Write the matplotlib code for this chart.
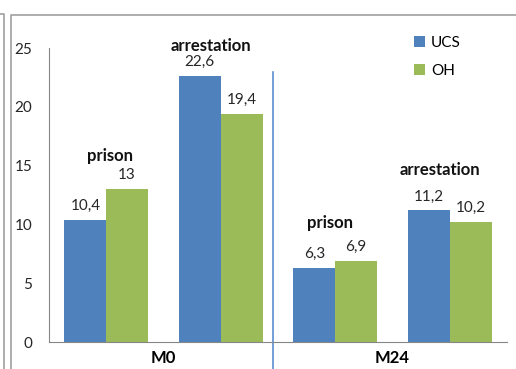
import matplotlib.pyplot as plt
from matplotlib.lines import Line2D

plt.rcParams['font.family'] = ['Lato', 'DejaVu Sans']

# values per group: M0 prison, M0 arrestation, M24 prison, M24 arrestation
groups = ["prison", "arrestation", "prison", "arrestation"]
periods = ["M0", "M24"]
ucs = [10.4, 22.6, 6.3, 11.2]
oh = [13, 19.4, 6.9, 10.2]

blue = "#4F81BD"
green = "#9BBB59"

W, H = 516, 369
fig = plt.figure(figsize=(W / 100, H / 100), dpi=100)
ax = fig.add_axes([49 / W, 27 / H, 458 / W, 294 / H])

x = list(range(len(groups)))
bw = 0.365
b1 = ax.bar([i - bw / 2 for i in x], ucs, bw, color=blue, label="UCS")
b2 = ax.bar([i + bw / 2 for i in x], oh, bw, color=green, label="OH")

ax.set_xlim(-0.5, 3.5)
ax.set_ylim(0, 25)
ax.set_yticks(range(0, 26, 5))
ax.tick_params(axis="y", length=0, pad=12, labelsize=11, labelcolor="#262626")
ax.tick_params(axis="x", length=0, pad=6)
ax.set_xticks([0.5, 2.5])
ax.set_xticklabels(periods, fontsize=12, fontweight="bold")

for side in ("top", "right"):
    ax.spines[side].set_visible(False)
ax.spines["left"].set_color("#868686")
ax.spines["bottom"].set_color("#868686")

# value labels above each bar
def fmt(v):
    return f"{v:g}".replace(".", ",")

for bars, vals in ((b1, ucs), (b2, oh)):
    for rect, v in zip(bars, vals):
        ax.annotate(fmt(v), (rect.get_x() + rect.get_width() / 2, v),
                    xytext=(0, 10), textcoords="offset points",
                    ha="center", va="center", fontsize=11, color="#262626")

# group names placed above each pair
name_offsets = [(3, 24), (-7, 22), (-4, 27), (-7, 29)]
for i, (name, (dx, dy)) in enumerate(zip(groups, name_offsets)):
    top = max(ucs[i], oh[i])
    ax.annotate(name, (i, top), xytext=(dx, dy), textcoords="offset points",
                ha="center", va="center", fontsize=12, fontweight="bold",
                color="#111111")

# separator between the two periods
ax.plot([1.46, 1.46], [23, -3], color="#5B8FD0", lw=1.2, clip_on=False)

ax.legend(loc="upper left", bbox_to_anchor=(414 / W, 1 - 36 / H),
          bbox_transform=fig.transFigure, frameon=False, fontsize=11,
          handlelength=0.7, handleheight=0.7, handletextpad=0.4,
          labelspacing=0.9, borderaxespad=0, borderpad=0)

# outer frames
fig.add_artist(Line2D([0, 3.5 / W, 3.5 / W], [1 - 14 / H, 1 - 14 / H, 0],
                      transform=fig.transFigure, color="#a0a0a0", lw=1.2))
fig.add_artist(Line2D([10.5 / W, 10.5 / W, 1], [0, 1 - 14.5 / H, 1 - 14.5 / H],
                      transform=fig.transFigure, color="#a0a0a0", lw=1.2))

fig.savefig("out.png", dpi=100)
